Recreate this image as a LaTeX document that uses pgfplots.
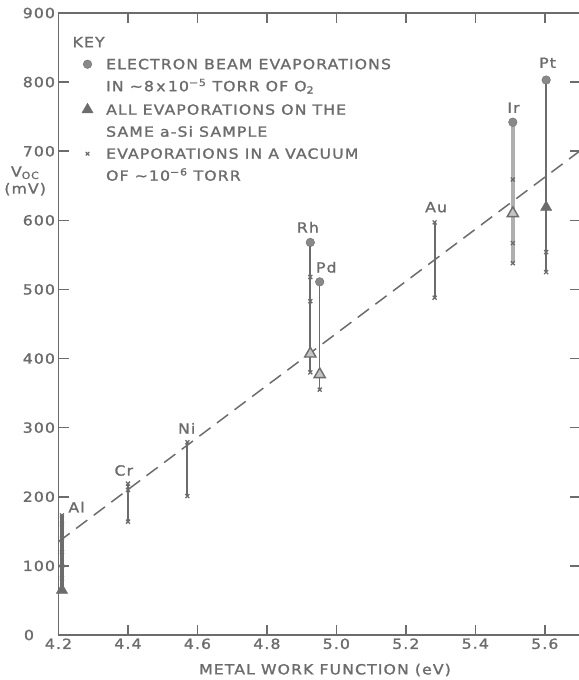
\documentclass[border=0pt]{standalone}
\usepackage{fontspec}
\setmainfont{DejaVu Sans}[FakeStretch=1.12,LetterSpace=8,FakeBold=1.4]
\usepackage{pgfplots}
\pgfplotsset{compat=1.18}
\definecolor{ink}{RGB}{108,108,108}
\definecolor{pale}{RGB}{175,175,175}

\begin{document}
\color{ink}
\begin{tikzpicture}[color=ink]
\begin{axis}[
  scale only axis, width=521bp, height=622bp,
  xmin=4.2, xmax=5.7, ymin=0, ymax=900,
  xtick={4.2,4.4,4.6,4.8,5.0,5.2,5.4,5.6},
  xticklabels={4.2,4.4,4.6,4.8,5.0,5.2,5.4,5.6},
  ytick={0,100,200,300,400,500,600,700,800,900},
  yticklabels={{0\hspace*{21bp}},100,200,300,400,500,600,700,800,900},
  tick align=inside, major tick length=10bp,
  axis line style={ink, line width=1.8bp},
  every tick/.style={ink, line width=1.6bp},
  font=\fontsize{14bp}{17bp}\selectfont,
  /pgf/number format/assume math mode=true,
  xlabel={METAL WORK FUNCTION (eV)},
  xlabel style={at={(axis description cs:0.5115,0)}, anchor=center, yshift=-35bp},
  ylabel={V\textsubscript{OC}\\(mV)},
  ylabel style={rotate=-90, align=center, at={(axis description cs:-0.064,0.73)}, anchor=center},
  legend cell align=left,
  legend style={draw=none, fill=none, inner sep=0pt, row sep=12bp, column sep=13bp,
    at={(axis description cs:0.039,0.9614)}, anchor=north west,
    font=\fontsize{14bp}{17bp}\selectfont,
    nodes={text height=10bp, text depth=0bp, inner sep=0pt}},
]
% key
\addlegendimage{empty legend}
\addlegendentry{\hspace*{-36bp}KEY}
\addlegendimage{only marks, mark=*, mark size=4.3bp, mark options={draw=ink, fill=ink!80}}
\addlegendentry{ELECTRON BEAM EVAPORATIONS}
\addlegendimage{empty legend}
\addlegendentry{IN ∼8\,x\,10\textsuperscript{−5} TORR OF O\textsubscript{2}}
\addlegendimage{only marks, mark=triangle*, mark size=6.5bp, mark options={draw=ink, fill=ink}}
\addlegendentry{ALL EVAPORATIONS ON THE}
\addlegendimage{empty legend}
\addlegendentry{SAME a-Si SAMPLE}
\addlegendimage{only marks, mark=x, mark size=2.5bp, mark options={draw=ink, line width=1.2bp}}
\addlegendentry{EVAPORATIONS IN A VACUUM}
\addlegendimage{empty legend}
\addlegendentry{OF ∼10\textsuperscript{−6} TORR}

% linear trend
\addplot[forget plot, ink, line width=1.5bp, dash pattern=on 14bp off 8bp]
  coordinates {(4.2,135) (5.7,700)};

% spread of V_OC for each metal
\addplot[forget plot, ink, line width=3.8bp] coordinates {(4.21,65) (4.21,173)};
\addplot[forget plot, ink, line width=2bp] coordinates {(4.40,164) (4.40,219)};
\addplot[forget plot, ink, line width=2bp] coordinates {(4.571,201) (4.571,279)};
\addplot[forget plot, ink, line width=2bp] coordinates {(4.925,380) (4.925,568)};
\addplot[forget plot, ink, line width=1.5bp] coordinates {(4.952,355) (4.952,511)};
\addplot[forget plot, ink, line width=1.8bp] coordinates {(5.283,488) (5.283,597)};
\addplot[forget plot, pale, line width=4.5bp] coordinates {(5.508,538) (5.508,742)};
\addplot[forget plot, ink, line width=2bp] coordinates {(5.604,525) (5.604,803)};

% evaporations in vacuum
\addplot[forget plot, only marks, mark=x, mark size=2.8bp, mark options={draw=ink, line width=1.3bp}]
  coordinates {
  (4.21,173) (4.21,160) (4.21,140) (4.21,120) (4.21,100) (4.21,82)
  (4.40,219) (4.40,210) (4.40,164)
  (4.571,279) (4.571,201)
  (4.925,518) (4.925,483) (4.925,380)
  (4.952,355)
  (5.283,597) (5.283,488)
  (5.508,659) (5.508,567) (5.508,538)
  (5.604,554) (5.604,525)};

% electron beam evaporations in O2
\addplot[forget plot, only marks, mark=*, mark size=4.3bp, mark options={draw=ink, fill=ink!80}]
  coordinates {(4.925,568) (4.952,511) (5.508,742) (5.604,803)};

% same a-Si sample
\addplot[forget plot, only marks, mark=triangle*, mark size=6.5bp, mark options={draw=ink, fill=ink}]
  coordinates {(4.21,65) (5.604,619)};
\addplot[forget plot, only marks, mark=triangle*, mark size=6.5bp, mark options={draw=ink, line width=1.4bp, fill=ink!40}]
  coordinates {(4.925,407) (4.952,377) (5.508,610)};

% metal names
\node at (axis cs:4.252,185) {Al};
\node at (axis cs:4.388,238) {Cr};
\node at (axis cs:4.569,299) {Ni};
\node at (axis cs:4.918,590) {Rh};
\node at (axis cs:4.971,532) {Pd};
\node at (axis cs:5.287,619) {Au};
\node at (axis cs:5.510,763) {Ir};
\node at (axis cs:5.608,828) {Pt};

\coordinate (bl) at (rel axis cs:0,0);
\coordinate (tr) at (rel axis cs:1,1);
\end{axis}
\pgfresetboundingbox
\path ([xshift=-58.5bp,yshift=-45bp]bl) rectangle ([xshift=-1bp,yshift=13bp]tr);
\end{tikzpicture}
\end{document}
